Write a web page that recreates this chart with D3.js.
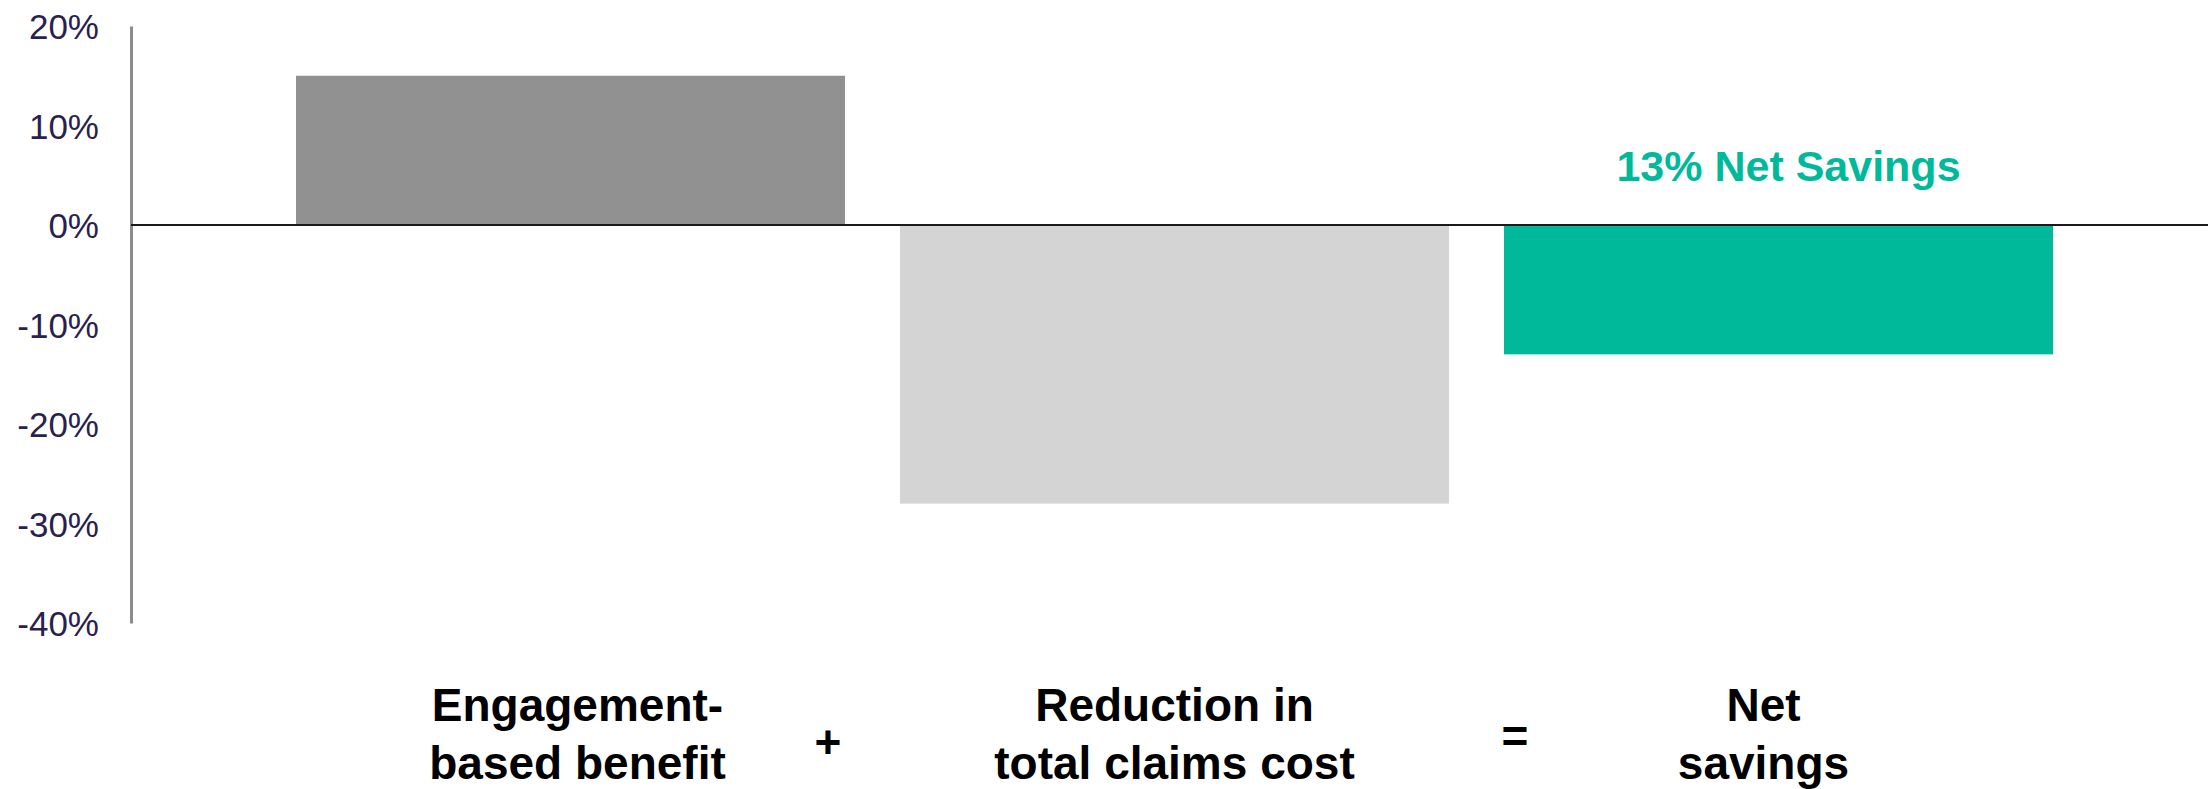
<!DOCTYPE html>
<html>
<head>
<meta charset="utf-8">
<script src="https://cdn.jsdelivr.net/npm/d3@7"></script>
<style>
  html, body { margin: 0; padding: 0; background: #ffffff; }
  svg { display: block; }
</style>
</head>
<body>
<script>
// ---- data ----
const categories = ["Engagement-based benefit", "Reduction in total claims cost", "Net savings"];
const labelLines = [["Engagement-", "based benefit"], ["Reduction in", "total claims cost"], ["Net", "savings"]];
const values = [15, -28, -13];
const barColors = ["#919191", "#d4d4d4", "#00b99b"];
const yTicks = [20, 10, 0, -10, -20, -30, -40];
const operators = ["+", "="];
const annotation = "13% Net Savings";

// ---- layout ----
const W = 2208, H = 789;
const svg = d3.select("body").append("svg").attr("width", W).attr("height", H);

const axisX = 131;
const y = d3.scaleLinear().domain([-40, 20]).range([623, 26]);
const x = d3.scaleBand().domain(categories).range([296, 2053]).paddingInner(0.091).paddingOuter(0);
const bw = x.bandwidth();

// bars
svg.append("g").selectAll("rect").data(categories).join("rect")
  .attr("x", d => x(d))
  .attr("width", bw)
  .attr("y", (d, i) => y(Math.max(0, values[i])))
  .attr("height", (d, i) => Math.abs(y(values[i]) - y(0)))
  .attr("fill", (d, i) => barColors[i]);

// y axis
const yAxis = svg.append("g").attr("transform", `translate(${axisX},0)`)
  .call(d3.axisLeft(y).tickValues(yTicks).tickFormat(d => d + "%").tickSize(0).tickPadding(32));
yAxis.select(".domain").attr("stroke", "#8c8c8c").attr("stroke-width", 3);
yAxis.selectAll("text")
  .attr("font-family", "'Liberation Sans', Arial, sans-serif")
  .attr("font-size", 35)
  .attr("fill", "#2a1f4d")
  .attr("dy", "0.36em");

// zero line
svg.append("line")
  .attr("x1", axisX).attr("x2", W)
  .attr("y1", y(0)).attr("y2", y(0))
  .attr("stroke", "#1a1a1a").attr("stroke-width", 2);

// annotation
svg.append("text")
  .attr("x", x(categories[2]) + bw / 2 + 10)
  .attr("y", y(0) - 44)
  .attr("text-anchor", "middle")
  .attr("font-family", "'Liberation Sans', Arial, sans-serif")
  .attr("font-weight", "bold")
  .attr("font-size", 43)
  .attr("fill", "#00b99b")
  .text(annotation);

// category labels
const labelOffsets = [7, 0, -15];
const lab = svg.append("g")
  .attr("font-family", "'Liberation Sans', Arial, sans-serif")
  .attr("font-weight", "bold")
  .attr("font-size", 46)
  .attr("fill", "#000");
categories.forEach((c, i) => {
  const t = lab.append("text")
    .attr("text-anchor", "middle")
    .attr("x", x(c) + bw / 2 + labelOffsets[i]);
  labelLines[i].forEach((ln, j) => {
    t.append("tspan")
      .attr("x", x(c) + bw / 2 + labelOffsets[i])
      .attr("y", 721 + j * 58)
      .text(ln);
  });
});

// operators
lab.append("text").attr("text-anchor", "middle")
  .attr("x", x(categories[0]) + bw - 17).attr("y", 758).text(operators[0]);
lab.append("text").attr("text-anchor", "middle")
  .attr("x", x(categories[2]) + 11).attr("y", 752).text(operators[1]);
</script>
</body>
</html>
